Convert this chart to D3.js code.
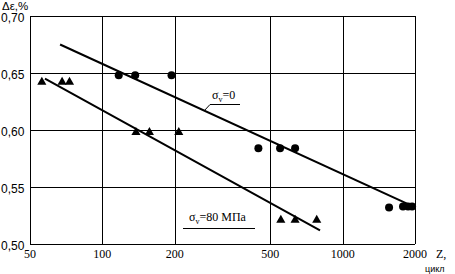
<!DOCTYPE html>
<html><head><meta charset="utf-8">
<script src="https://cdn.jsdelivr.net/npm/d3@7"></script>
<style>body{margin:0;background:#fff}svg{display:block}</style>
</head><body>
<svg id="c" width="455" height="274"></svg>
<script>
const xTicks = [50, 100, 200, 500, 1000, 2000];
const yTicks = [0.50, 0.55, 0.60, 0.65, 0.70];
const circleZ = [117, 137, 194, 446, 549, 634, 1560, 1783, 1871, 1945];
const circleE = [0.648, 0.648, 0.648, 0.584, 0.584, 0.584, 0.532, 0.533, 0.533, 0.533];
const triZ = [56, 68, 73, 138, 157, 208, 553, 634, 780];
const triE = [0.642, 0.642, 0.642, 0.598, 0.598, 0.598, 0.521, 0.521, 0.521];
const fit0Z = [66.7, 1963];
const fit0E = [0.675, 0.533];
const fit80Z = [57.7, 805];
const fit80E = [0.645, 0.512];

const svg = d3.select("#c");
const L = 30, R = 415, T = 16, B = 244;
const x = d3.scaleLog().domain([50, 2000]).range([L, R]);
const y = d3.scaleLinear().domain([0.50, 0.70]).range([B, T]);
const sans = "Liberation Sans, Arial, sans-serif";
const serif = "Liberation Serif, Times New Roman, serif";

// grid
const g = svg.append("g").attr("shape-rendering", "crispEdges");
g.selectAll("line.v").data(xTicks).join("line")
  .attr("x1", d => Math.round(x(d)) + 0.5).attr("x2", d => Math.round(x(d)) + 0.5)
  .attr("y1", T).attr("y2", B).attr("stroke", "#000");
g.selectAll("line.h").data(yTicks).join("line")
  .attr("class", "h")
  .attr("x1", L).attr("x2", R)
  .attr("y1", d => Math.round(y(d)) + 0.5).attr("y2", d => Math.round(y(d)) + 0.5).attr("stroke", "#000");

// tick labels
const fmt = d3.format(".2f");
svg.selectAll("text.yt").data(yTicks).join("text")
  .attr("x", 1).attr("y", d => y(d) + 6)
  .attr("font-family", sans).attr("font-size", 12)
  .text(d => fmt(d).replace(".", ","));
svg.selectAll("text.xt").data(xTicks).join("text")
  .attr("x", d => x(d)).attr("y", 258).attr("text-anchor", "middle")
  .attr("font-family", serif).attr("font-size", 12)
  .text(d => d);

svg.append("text").attr("x", 2).attr("y", 9.5)
  .attr("font-family", sans).attr("font-size", 11.5).text("Δε,%");
svg.append("text").attr("x", 436).attr("y", 258)
  .attr("font-family", serif).attr("font-size", 12).text("Z,");
svg.append("text").attr("x", 425).attr("y", 272)
  .attr("font-family", sans).attr("font-size", 9).text("цикл");

// fit lines
const line = d3.line().x(d => x(d[0])).y(d => y(d[1]));
svg.append("path").datum(d3.zip(fit0Z, fit0E)).attr("d", line)
  .attr("stroke", "#000").attr("stroke-width", 2).attr("fill", "none");
svg.append("path").datum(d3.zip(fit80Z, fit80E)).attr("d", line)
  .attr("stroke", "#000").attr("stroke-width", 2).attr("fill", "none");

// markers
svg.selectAll("circle.m").data(d3.zip(circleZ, circleE)).join("circle")
  .attr("cx", d => x(d[0])).attr("cy", d => y(d[1])).attr("r", 4).attr("fill", "#000");
const tri = d3.symbol().type(d3.symbolTriangle).size(36);
svg.selectAll("path.t").data(d3.zip(triZ, triE)).join("path")
  .attr("transform", d => `translate(${x(d[0])},${y(d[1])})`).attr("d", tri).attr("fill", "#000");

// annotations
function label(tx, ty, sub, rest, ux1, ux2, uy) {
  const t = svg.append("text").attr("x", tx).attr("y", ty).attr("font-family", serif).attr("font-size", 12);
  t.append("tspan").text("σ");
  t.append("tspan").attr("font-size", 8).attr("dy", 3).text(sub);
  t.append("tspan").attr("dy", -3).text(rest);
  svg.append("line").attr("x1", ux1).attr("x2", ux2).attr("y1", uy).attr("y2", uy)
    .attr("stroke", "#000").attr("shape-rendering", "crispEdges");
}
label(212, 99, "v", "=0", 210, 240, 104.5);
svg.append("line").attr("x1", 210).attr("y1", 104.5).attr("x2", 204).attr("y2", 111).attr("stroke", "#000");
label(189, 221, "v", "=80 МПа", 183, 255, 228.5);
</script>
</body></html>
